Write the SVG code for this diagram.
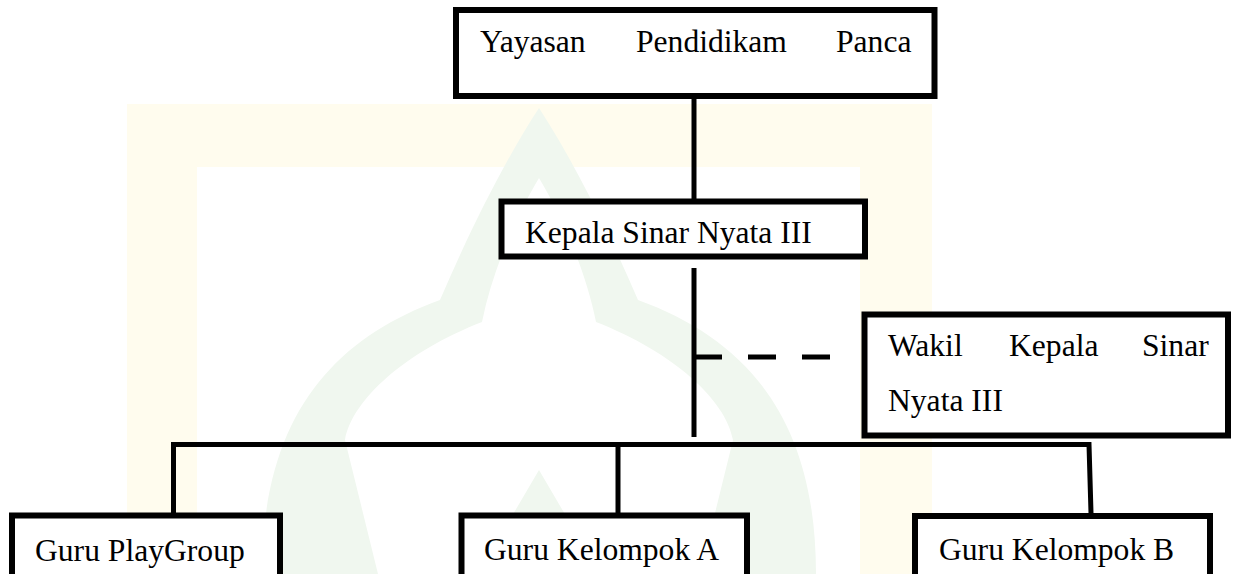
<svg xmlns="http://www.w3.org/2000/svg" width="1237" height="574" viewBox="0 0 1237 574">
  <style>
    .box { fill: #ffffff; stroke: #000000; stroke-width: 6; }
    .lbl { font-family: 'Liberation Serif', 'Times New Roman', serif; font-size: 31.6px; fill: #000000; }
    .conn { fill: none; stroke: #000000; stroke-width: 5; stroke-linecap: butt; stroke-linejoin: miter; }
  </style>
  <rect x="0" y="0" width="1237" height="574" fill="#ffffff"/>
  <g id="watermark">
    <path d="M127,104 H932 V574 H860 V167 H197 V574 H127 Z" fill="#fffcee"/>
    <path d="M539,108 C505,160 470,230 440,300 C330,340 262,420 262,574 L816,574 C816,420 748,340 638,300 C608,230 573,160 539,108 Z" fill="#f0f7ef"/>
    <path d="M539,178 C515,218 492,272 482,322 C405,352 352,400 345,440 L733,440 C726,400 673,352 596,322 C586,272 563,218 539,178 Z" fill="#ffffff"/>
    <path d="M345,440 L733,440 L700,574 L600,574 L539,470 L478,574 L378,574 Z" fill="#ffffff"/>
  </g>
  <g id="connectors">
    <line class="conn" x1="694" y1="96" x2="694" y2="199"/>
    <line class="conn" x1="694" y1="268" x2="694" y2="437"/>
    <line class="conn" x1="694" y1="357" x2="830" y2="357" stroke-width="6" stroke-dasharray="28 26"/>
    <path class="conn" d="M173.5,513 V444.5 H1089 L1091,513"/>
    <line class="conn" x1="618" y1="444.5" x2="618" y2="513"/>
  </g>
  <g id="node-yayasan">
    <rect class="box" x="456" y="10" width="478.5" height="86"/>
    <text class="lbl" x="480" y="52">Yayasan</text>
    <text class="lbl" x="636" y="52">Pendidikam</text>
    <text class="lbl" x="836" y="52">Panca</text>
  </g>
  <g id="node-kepala">
    <rect class="box" x="501.5" y="201.5" width="363.5" height="55"/>
    <text class="lbl" x="525" y="243">Kepala Sinar Nyata III</text>
  </g>
  <g id="node-wakil">
    <rect class="box" x="864.5" y="314.5" width="363.5" height="121" stroke-width="5.5"/>
    <text class="lbl" x="888" y="356">Wakil</text>
    <text class="lbl" x="1009" y="356">Kepala</text>
    <text class="lbl" x="1142" y="356">Sinar</text>
    <text class="lbl" x="888" y="411">Nyata III</text>
  </g>
  <g id="node-playgroup">
    <rect class="box" x="12" y="515.5" width="268" height="70"/>
    <text class="lbl" x="35" y="561">Guru PlayGroup</text>
  </g>
  <g id="node-kelompok-a">
    <rect class="box" x="461.5" y="515.5" width="285.5" height="70"/>
    <text class="lbl" x="484" y="560">Guru Kelompok A</text>
  </g>
  <g id="node-kelompok-b">
    <rect class="box" x="915" y="516" width="295" height="70"/>
    <text class="lbl" x="939" y="560">Guru Kelompok B</text>
  </g>
</svg>
